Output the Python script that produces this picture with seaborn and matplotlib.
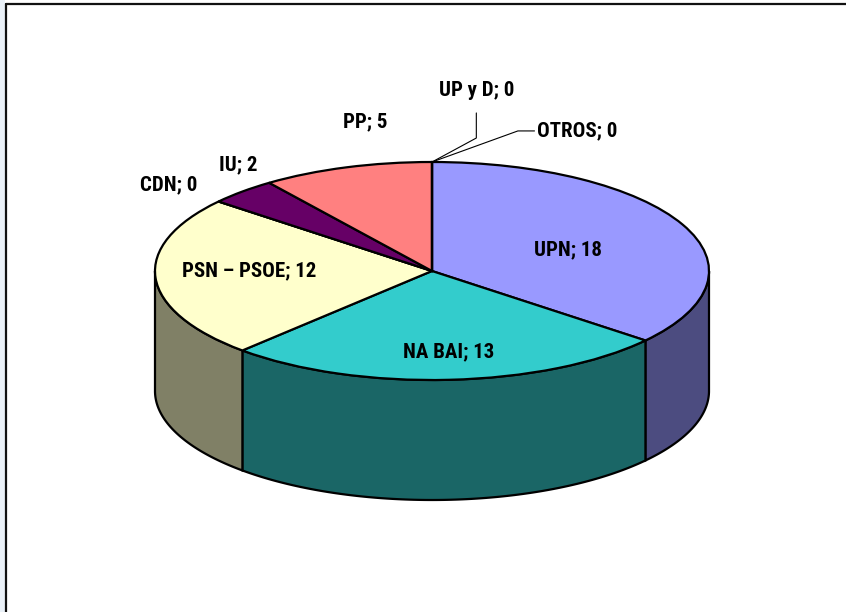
import numpy as np
import matplotlib.pyplot as plt
import seaborn as sns
from matplotlib import font_manager as fm
from matplotlib.patches import Polygon, Rectangle
from matplotlib.lines import Line2D

# data
parties = ['UPN', 'NA BAI', 'PSN – PSOE', 'CDN', 'IU', 'PP', 'UP y D', 'OTROS']
seats = [18, 13, 12, 0, 2, 5, 0, 0]
top_colors = ['#9999FF', '#33CCCC', '#FFFFCC', '#993366', '#660066', '#FF8080', '#0066CC', '#CCCCFF']
side_colors = ['#4C4C80', '#1A6666', '#808066', '#4C1933', '#330033', '#804040', '#003366', '#666680']
# label anchor, relative to pie centre, in units of the radius
label_dx = [0.49, 0.06, -0.66, -0.95, -0.70, -0.24, 0.16, 0.38]
label_dy = [0.19, -0.74, 0.0, 0.79, 0.97, 1.37, 1.66, 1.29]
label_ha = ['center'] * 7 + ['left']

sns.set_theme(style='white')

# narrow bold face if one is around
fonts = fm.fontManager.ttflist
family, stretch = 'Liberation Sans', 'normal'
for fam in ['Liberation Sans Narrow', 'Roboto Condensed', 'Open Sans Condensed', 'DejaVu Sans']:
    if any(f.name == fam and f.stretch in ('condensed', 'semi-condensed') for f in fonts) or \
            (fam != 'DejaVu Sans' and any(f.name == fam for f in fonts)):
        family, stretch = fam, 'condensed'
        break
plt.rcParams['font.family'] = [family, 'Liberation Sans', 'DejaVu Sans']

fig = plt.figure(figsize=(8.46, 6.12), dpi=100)
ax = fig.add_axes([0, 0, 1, 1])

cx, R = 432, 277       # pie centre x and radius (data units)
k = 109 / 277          # vertical squash of the top face
D = 120 / k            # wall depth

# pie top face
ax.pie(seats, colors=top_colors, startangle=90, counterclock=False,
       center=(cx, 0), radius=R,
       wedgeprops=dict(edgecolor='black', linewidth=1.6, zorder=3))

# front walls
total = sum(seats)
cum = 0
for val, col in zip(seats, side_colors):
    t2 = 90 - cum / total * 360
    cum += val
    t1 = 90 - cum / total * 360
    a, b = max(t1, -180), min(t2, 0)
    if b > a:
        t = np.radians(np.linspace(a, b, 120))
        xs = cx + R * np.cos(t)
        ys = R * np.sin(t)
        pts = np.column_stack([np.r_[xs, xs[::-1]], np.r_[ys, ys[::-1] - D]])
        ax.add_patch(Polygon(pts, closed=True, facecolor=col, edgecolor='black',
                             linewidth=1.6, zorder=1))

# labels
for name, val, dx, dy, ha in zip(parties, seats, label_dx, label_dy, label_ha):
    ax.text(cx + dx * R, dy * R, f'{name}; {val}', ha=ha, va='center',
            fontsize=15, fontweight='bold', fontstretch=stretch, color='black', zorder=5)

# leader lines for the zero slices at the top
tip = (cx, R)
ax.plot([cx + 0.16 * R, cx + 0.16 * R, tip[0]], [1.45 * R, 1.22 * R, tip[1]],
        color='black', lw=0.8, zorder=4)
ax.plot([cx + 0.37 * R, cx + 0.31 * R, tip[0]], [1.285 * R, 1.285 * R, tip[1]],
        color='black', lw=0.8, zorder=4)

ax.set_xlim(0, 846)
ax.set_ylim((271 - 612) / k, 271 / k)
ax.set_aspect('auto')
ax.axis('off')

# slide frame
fig.add_artist(Rectangle((0, 0), 5 / 846, 1, transform=fig.transFigure,
                         facecolor='#EAF1F8', edgecolor='none'))
fig.add_artist(Line2D([6 / 846, 6 / 846], [0, 1 - 4 / 612], transform=fig.transFigure,
                      color='#111111', lw=1.6))
fig.add_artist(Line2D([6 / 846, 1], [1 - 4 / 612, 1 - 4 / 612], transform=fig.transFigure,
                      color='#111111', lw=1.6))

fig.savefig('out.png', dpi=100)
